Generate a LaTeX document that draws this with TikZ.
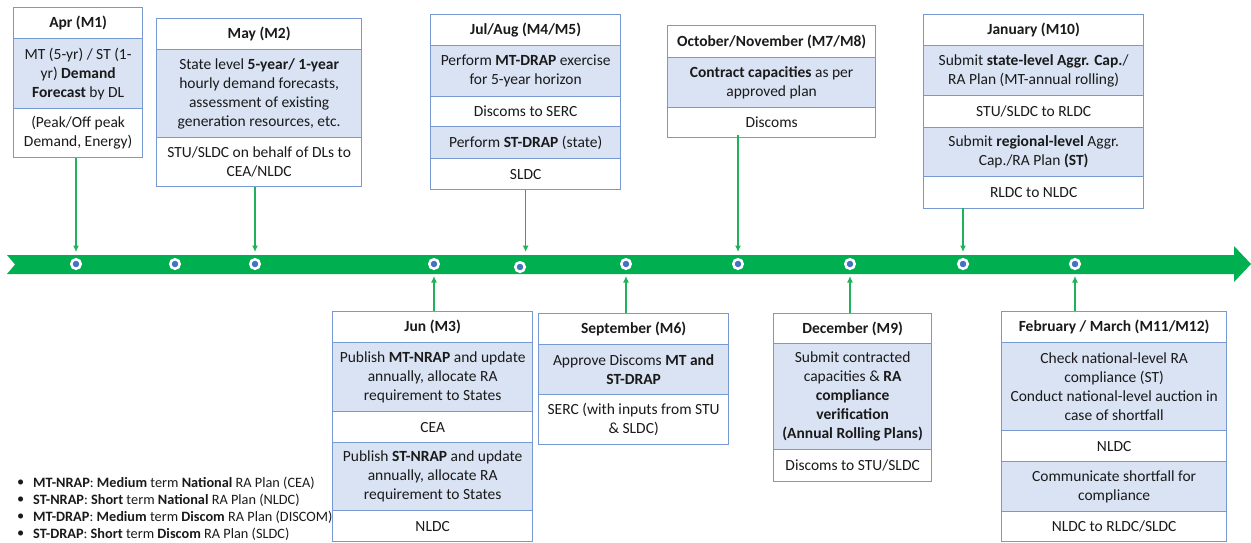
\documentclass[tikz,border=0pt]{standalone}
\usepackage{fontspec}
\setmainfont{Carlito}
\usetikzlibrary{arrows.meta}
\definecolor{bandgreen}{HTML}{00B050}
\definecolor{conngreen}{HTML}{1DB35A}
\definecolor{boxblue}{HTML}{7799D2}
\definecolor{fillblue}{HTML}{DAE3F3}
\definecolor{dotblue}{HTML}{4472C4}
\definecolor{txt}{HTML}{1A1A1A}
\tikzset{
  cellbase/.style={draw=boxblue, line width=1.3pt, anchor=north west, inner sep=0pt, align=center, text=txt, font=\fontsize{15.5}{19}\selectfont},
  hdr/.style={cellbase, fill=white, font=\fontsize{15.5}{19}\selectfont\bfseries},
  blu/.style={cellbase, fill=fillblue},
  wht/.style={cellbase, fill=white},
  tdot/.style={circle, fill=dotblue, draw=white, line width=2.5pt, minimum size=9.5pt, inner sep=0pt},
  conn/.style={draw=conngreen, line width=1.1pt, -{Latex[length=6.5pt,width=6pt]}},
  legend/.style={anchor=west, inner sep=0pt, text=txt, font=\fontsize{14.3}{17}\selectfont},
}
\begin{document}
\begin{tikzpicture}[x=1pt,y=-1pt]
\useasboundingbox (0,0) rectangle (1251,542);
% timeline band
\fill[bandgreen] (7,255) -- (1234,255) -- (1234,246) -- (1251,264) -- (1234,282) -- (1234,274) -- (7,274) -- (15,264.5) -- cycle;
\coordinate (bandtop) at (0,252);
\coordinate (bandbot) at (0,276);
% dots
\node[tdot] (d1) at (76,264) {};
\node[tdot] (d2) at (175,264) {};
\node[tdot] (d3) at (255,264) {};
\node[tdot] (d4) at (434,264) {};
\node[tdot] (d5) at (520,267) {};
\node[tdot] (d6) at (626,264) {};
\node[tdot] (d7) at (738,264) {};
\node[tdot] (d8) at (850,264) {};
\node[tdot] (d9) at (963,264) {};
\node[tdot] (d10) at (1075,264) {};
% legend
\node[legend] (b1) at (17,483) {\textbullet};
\node[legend] (l1) at (33,483) {\textbf{MT-NRAP}: \textbf{Medium} term \textbf{National} RA Plan (CEA)};
\node[legend] (b2) at (17,500) {\textbullet};
\node[legend] (l2) at (33,500) {\textbf{ST-NRAP}: \textbf{Short} term \textbf{National} RA Plan (NLDC)};
\node[legend] (b3) at (17,517) {\textbullet};
\node[legend] (l3) at (33,517) {\textbf{MT-DRAP}: \textbf{Medium} term \textbf{Discom} RA Plan (DISCOM)};
\node[legend] (b4) at (17,534) {\textbullet};
\node[legend] (l4) at (33,534) {\textbf{ST-DRAP}: \textbf{Short} term \textbf{Discom} RA Plan (SLDC)};
% Apr
\node[hdr, minimum width=129pt, minimum height=31pt] (apr1) at (13,7) {Apr (M1)};
\node[blu, minimum width=129pt, minimum height=70pt] (apr2) at (13,38) {MT (5-yr) / ST (1-\\yr) \textbf{Demand}\\\textbf{Forecast} by DL};
\node[wht, minimum width=129pt, minimum height=49pt] (apr3) at (13,108) {(Peak/Off peak\\Demand, Energy)};
% May
\node[hdr, minimum width=205pt, minimum height=31pt] (may1) at (156,18) {May (M2)};
\node[blu, minimum width=205pt, minimum height=88pt] (may2) at (156,49) {State level \textbf{5-year/ 1-year}\\hourly demand forecasts,\\assessment of existing\\generation resources, etc.};
\node[wht, minimum width=205pt, minimum height=49pt] (may3) at (156,137) {STU/SLDC on behalf of DLs to\\CEA/NLDC};
% Jul/Aug
\node[hdr, minimum width=190pt, minimum height=31pt] (jul1) at (430,14) {Jul/Aug (M4/M5)};
\node[blu, minimum width=190pt, minimum height=51pt] (jul2) at (430,45) {Perform \textbf{MT-DRAP} exercise\\for 5-year horizon};
\node[wht, minimum width=190pt, minimum height=30pt] (jul3) at (430,96) {Discoms to SERC};
\node[blu, minimum width=190pt, minimum height=32pt] (jul4) at (430,126) {Perform \textbf{ST-DRAP} (state)};
\node[wht, minimum width=190pt, minimum height=31pt] (jul5) at (430,158) {SLDC};
% Oct/Nov
\node[hdr, minimum width=208pt, minimum height=32pt] (oct1) at (667,25) {October/November (M7/M8)};
\node[blu, minimum width=208pt, minimum height=50pt] (oct2) at (667,57) {\textbf{Contract capacities} as per\\approved plan};
\node[wht, minimum width=208pt, minimum height=30pt] (oct3) at (667,107) {Discoms};
% January
\node[hdr, minimum width=220pt, minimum height=31pt] (jan1) at (923,14) {January (M10)};
\node[blu, minimum width=220pt, minimum height=50pt] (jan2) at (923,45) {Submit \textbf{state-level Aggr. Cap.}/\\RA Plan (MT-annual rolling)};
\node[wht, minimum width=220pt, minimum height=32pt] (jan3) at (923,95) {STU/SLDC to RLDC};
\node[blu, minimum width=220pt, minimum height=49pt] (jan4) at (923,127) {Submit \textbf{regional-level} Aggr.\\Cap./RA Plan \textbf{(ST)}};
\node[wht, minimum width=220pt, minimum height=32pt] (jan5) at (923,176) {RLDC to NLDC};
% Jun
\node[hdr, minimum width=200pt, minimum height=31pt] (jun1) at (332,311) {Jun (M3)};
\node[blu, minimum width=200pt, minimum height=69pt] (jun2) at (332,342) {Publish \textbf{MT-NRAP} and update\\annually, allocate RA\\requirement to States};
\node[wht, minimum width=200pt, minimum height=31pt] (jun3) at (332,411) {CEA};
\node[blu, minimum width=200pt, minimum height=68pt] (jun4) at (332,442) {Publish \textbf{ST-NRAP} and update\\annually, allocate RA\\requirement to States};
\node[wht, minimum width=200pt, minimum height=31pt] (jun5) at (332,510) {NLDC};
% September
\node[hdr, minimum width=190pt, minimum height=31pt] (sep1) at (538,313) {September (M6)};
\node[blu, minimum width=190pt, minimum height=50pt] (sep2) at (538,344) {Approve Discoms \textbf{MT and}\\\textbf{ST-DRAP}};
\node[wht, minimum width=190pt, minimum height=50pt] (sep3) at (538,394) {SERC (with inputs from STU\\\& SLDC)};
% December
\node[hdr, minimum width=158pt, minimum height=30pt] (dec1) at (773,313) {December (M9)};
\node[blu, minimum width=158pt, minimum height=106pt] (dec2) at (773,343) {Submit contracted\\capacities \& \textbf{RA}\\\textbf{compliance}\\\textbf{verification}\\\textbf{(Annual Rolling Plans)}};
\node[wht, minimum width=158pt, minimum height=32pt] (dec3) at (773,449) {Discoms to STU/SLDC};
% February / March
\node[hdr, minimum width=225pt, minimum height=31pt] (feb1) at (1001,311) {February / March (M11/M12)};
\node[blu, minimum width=225pt, minimum height=88pt] (feb2) at (1001,342) {Check national-level RA\\compliance (ST)\\Conduct national-level auction in\\case of shortfall};
\node[wht, minimum width=225pt, minimum height=31pt] (feb3) at (1001,430) {NLDC};
\node[blu, minimum width=225pt, minimum height=50pt] (feb4) at (1001,461) {Communicate shortfall for\\compliance};
\node[wht, minimum width=225pt, minimum height=30pt] (feb5) at (1001,511) {NLDC to RLDC/SLDC};
% connectors (top)
\draw[conn] (d1 |- apr3.south) -- (d1 |- bandtop);
\draw[conn] (d3 |- may3.south) -- (d3 |- bandtop);
\draw[conn] (jul5.south) -- (jul5.south |- bandtop);
\draw[conn] ([yshift=3pt]d7 |- oct3.south) -- (d7 |- bandtop);
\draw[conn] ([yshift=1pt]d9 |- jan5.south) -- (d9 |- bandtop);
% connectors (bottom)
\draw[conn] (d4 |- jun1.north) -- (d4 |- bandbot);
\draw[conn] (d6 |- sep1.north) -- (d6 |- bandbot);
\draw[conn] (d8 |- dec1.north) -- (d8 |- bandbot);
\draw[conn] (d10 |- feb1.north) -- (d10 |- bandbot);
\end{tikzpicture}
\end{document}
